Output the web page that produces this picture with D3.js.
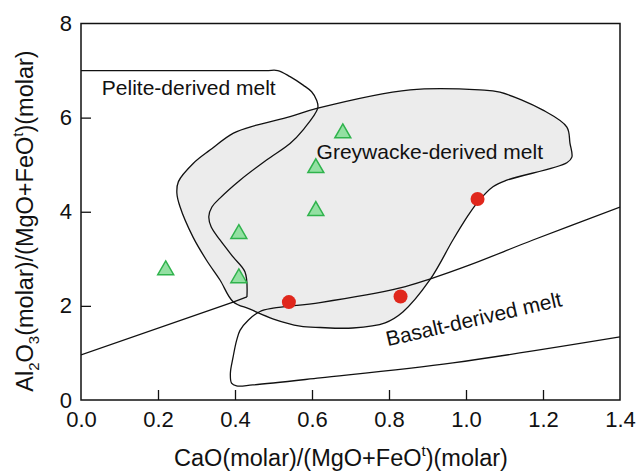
<!DOCTYPE html>
<html>
<head>
<meta charset="utf-8">
<script src="https://cdn.jsdelivr.net/npm/d3@7"></script>
<style>
  body { margin: 0; background: #fff; }
  svg text { font-family: "Liberation Sans", Arial, sans-serif; fill: #111; }
</style>
</head>
<body>
<div id="chart"></div>
<script>
// Field boundaries (x = CaO/(MgO+FeOt), y = Al2O3/(MgO+FeOt))
const peliteLine = [
  [0, 7.0], [0.48, 7.0], [0.511, 7.0], [0.543, 6.87], [0.577, 6.69], [0.599, 6.55],
  [0.612, 6.37], [0.615, 6.20], [0.577, 5.74], [0.543, 5.45], [0.482, 5.10],
  [0.413, 4.67], [0.361, 4.29], [0.340, 4.10], [0.332, 3.90], [0.338, 3.68],
  [0.361, 3.40], [0.395, 3.04], [0.426, 2.72], [0.431, 2.19]
];
const peliteBase = [[0, 0.956], [0.395, 2.08], [0.431, 2.19]];

const greywackeField = [
  [0.615, 6.20], [0.543, 6.02], [0.456, 5.84], [0.396, 5.67], [0.335, 5.31],
  [0.292, 5.03], [0.253, 4.64], [0.249, 4.40], [0.257, 4.11], [0.291, 3.46],
  [0.326, 2.97], [0.361, 2.55], [0.395, 2.09], [0.439, 1.93], [0.500, 1.72],
  [0.569, 1.57], [0.621, 1.54], [0.706, 1.53], [0.790, 1.64], [0.836, 1.87],
  [0.906, 2.55], [0.966, 3.40], [1.003, 3.89], [1.029, 4.19], [1.070, 4.53],
  [1.106, 4.67], [1.262, 5.04], [1.275, 5.16], [1.270, 5.46], [1.262, 5.80],
  [1.200, 6.16], [1.088, 6.54], [1.036, 6.59], [0.855, 6.59]
];

const basaltField = [
  [1.40, 4.10], [1.174, 3.40], [1.010, 2.87], [0.906, 2.57], [0.829, 2.38],
  [0.621, 2.07], [0.499, 1.95], [0.465, 1.88], [0.435, 1.70], [0.413, 1.48],
  [0.404, 1.26], [0.395, 0.91], [0.388, 0.57], [0.391, 0.36], [0.404, 0.30],
  [0.446, 0.32], [0.621, 0.47], [0.966, 0.79], [1.40, 1.34]
];

// samples
const triX = [0.22, 0.41, 0.41, 0.61, 0.61, 0.68];
const triY = [2.76, 2.59, 3.53, 4.02, 4.93, 5.67];
const dotX = [0.54, 0.83, 1.03];
const dotY = [2.08, 2.20, 4.27];

const xTicks = [0, 0.2, 0.4, 0.6, 0.8, 1.0, 1.2, 1.4];
const yTicks = [0, 2, 4, 6, 8];

const W = 641, H = 471;
const margin = { top: 23.5, right: 21, bottom: 71, left: 81 };
const width = W - margin.left - margin.right,
  height = H - margin.top - margin.bottom;

const svg = d3.select('#chart').append('svg')
  .attr('width', W).attr('height', H);

const g = svg.append('g')
  .attr('transform', `translate(${margin.left},${margin.top})`);

const x = d3.scaleLinear().domain([0, 1.4]).range([0, width]);
const y = d3.scaleLinear().domain([0, 8]).range([height, 0]);

g.append('clipPath').attr('id', 'plot-clip')
  .append('rect').attr('width', width).attr('height', height);

const plot = g.append('g').attr('clip-path', 'url(#plot-clip)');

const smooth = d3.line().x(d => x(d[0])).y(d => y(d[1])).curve(d3.curveCatmullRom.alpha(0.5));
const closed = d3.line().x(d => x(d[0])).y(d => y(d[1])).curve(d3.curveCatmullRomClosed.alpha(0.5));
const straight = d3.line().x(d => x(d[0])).y(d => y(d[1]));

// greywacke field (shaded)
plot.append('path').attr('d', closed(greywackeField))
  .attr('fill', '#ececec').attr('stroke', '#111').attr('stroke-width', 1.3);

// pelite field
plot.append('path').attr('d', smooth(peliteLine))
  .attr('fill', 'none').attr('stroke', '#111').attr('stroke-width', 1.3);
plot.append('path').attr('d', straight(peliteBase))
  .attr('fill', 'none').attr('stroke', '#111').attr('stroke-width', 1.3);

// basalt field
plot.append('path').attr('d', smooth(basaltField))
  .attr('fill', 'none').attr('stroke', '#111').attr('stroke-width', 1.3);

// field labels
g.append('text').attr('x', x(0.054)).attr('y', y(6.48))
  .attr('font-size', 21).text('Pelite-derived melt');
g.append('text').attr('x', x(0.612)).attr('y', y(5.12))
  .attr('font-size', 21).text('Greywacke-derived melt');
g.append('text')
  .attr('transform', `translate(${x(0.797)},${y(1.14)}) rotate(-13)`)
  .attr('font-size', 21).text('Basalt-derived melt');

// triangles
const tri = d3.symbol().type(d3.symbolTriangle).size(110);
g.selectAll('.tri')
  .data(triX.map((v, i) => [v, triY[i]]))
  .enter().append('path')
  .attr('class', 'tri')
  .attr('d', tri)
  .attr('transform', d => `translate(${x(d[0])},${y(d[1])})`)
  .attr('fill', '#93e0a2').attr('stroke', '#2fb34c').attr('stroke-width', 1.5);

// red dots
g.selectAll('.dot')
  .data(dotX.map((v, i) => [v, dotY[i]]))
  .enter().append('circle')
  .attr('class', 'dot')
  .attr('cx', d => x(d[0])).attr('cy', d => y(d[1]))
  .attr('r', 7)
  .attr('fill', '#e0271c');

// axes with inward ticks
const xAxis = g.append('g')
  .attr('transform', `translate(0,${height})`)
  .call(d3.axisBottom(x).tickValues(xTicks).tickFormat(d3.format('.1f'))
    .tickSizeInner(-10).tickSizeOuter(0).tickPadding(11));
const yAxis = g.append('g')
  .call(d3.axisLeft(y).tickValues(yTicks).tickFormat(d3.format('d'))
    .tickSizeInner(-10).tickSizeOuter(0).tickPadding(9));

[xAxis, yAxis].forEach(a => {
  a.select('.domain').remove();
  a.selectAll('.tick line').attr('stroke', '#111').attr('stroke-width', 1.3);
  a.selectAll('.tick text').attr('font-size', 22)
    .style('font-family', '"Liberation Sans", Arial, sans-serif').attr('fill', '#111');
});
xAxis.selectAll('.tick').filter(d => d === 0 || d === 1.4).select('line').remove();
yAxis.selectAll('.tick').filter(d => d === 0 || d === 8).select('line').remove();

// frame
g.append('rect').attr('width', width).attr('height', height)
  .attr('fill', 'none').attr('stroke', '#111').attr('stroke-width', 1.5);

// axis titles
const xt = svg.append('text')
  .attr('x', 341).attr('y', 466)
  .attr('text-anchor', 'middle').attr('font-size', 23.5);
xt.append('tspan').text('CaO(molar)/(MgO+FeO');
xt.append('tspan').attr('font-size', 15).attr('dy', -10).text('t');
xt.append('tspan').attr('dy', 10).text(')(molar)');

const yt = svg.append('text')
  .attr('transform', 'translate(33,221) rotate(-90)')
  .attr('text-anchor', 'middle').attr('font-size', 23.5);
yt.append('tspan').text('Al');
yt.append('tspan').attr('font-size', 15).attr('dy', 6).text('2');
yt.append('tspan').attr('dy', -6).text('O');
yt.append('tspan').attr('font-size', 15).attr('dy', 6).text('3');
yt.append('tspan').attr('dy', -6).text('(molar)/(MgO+FeO');
yt.append('tspan').attr('font-size', 15).attr('dy', -10).text('t');
yt.append('tspan').attr('dy', 10).text(')(molar)');
</script>
</body>
</html>
